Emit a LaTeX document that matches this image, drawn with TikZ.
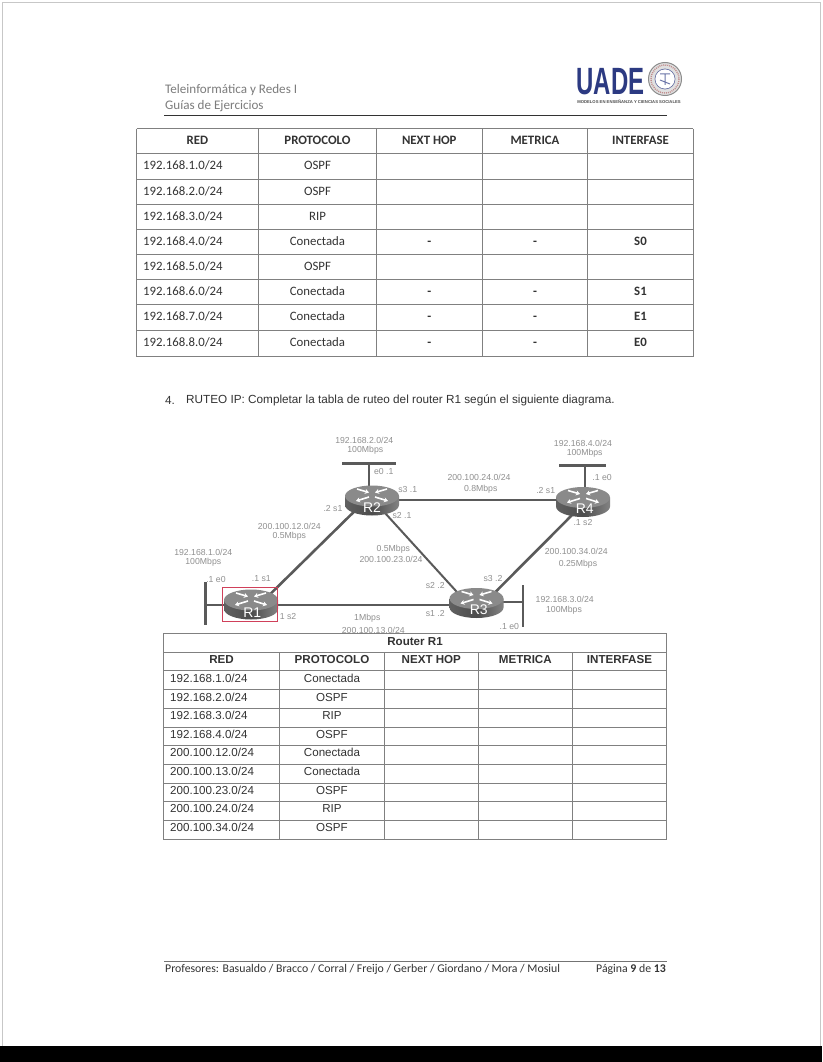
\documentclass[tikz,border=0pt]{standalone}
\usepackage{fontspec}
\usepackage{graphicx}
\setmainfont{Carlito}
\newfontfamily\arialf{Liberation Sans}
\usetikzlibrary{arrows.meta}
\definecolor{inkc}{HTML}{333333}
\definecolor{hdrc}{HTML}{7C7C7C}
\definecolor{gridc}{HTML}{808080}
\definecolor{lblc}{HTML}{909090}
\definecolor{linkc}{HTML}{5A5A5A}
\definecolor{navyc}{HTML}{2C3A82}
\definecolor{framec}{HTML}{D0405A}
\pgfdeclarelayer{page}
\pgfdeclarelayer{links}
\pgfsetlayers{page,links,main}
\tikzset{
  x=1pt,y=-1pt,
  lbl/.style={font=\arialf\fontsize{8.7}{10}\selectfont,text=lblc,inner sep=0pt,anchor=center},
  cellA/.style={font=\fontsize{12.8}{14}\selectfont,text=inkc,inner sep=0pt,text height=.7em,text depth=.15em,yshift=-1pt},
  cellAb/.style={cellA,font=\bfseries\fontsize{12.8}{14}\selectfont},
  cellB/.style={font=\arialf\fontsize{11.6}{14}\selectfont,text=inkc,inner sep=0pt,text height=.72em,text depth=.15em,yshift=-1.5pt},
  cellBb/.style={cellB,font=\arialf\bfseries\fontsize{11.6}{14}\selectfont},
  gridl/.style={draw=gridc,line width=1pt},
  linkl/.style={draw=linkc,line width=2.6pt},
  thinl/.style={draw=linkc,line width=2pt},
  busl/.style={draw=linkc,line width=2.6pt},
  rname/.style={font=\arialf\fontsize{14}{15}\selectfont,text=white,inner sep=0pt},
  marrow/.style={draw=white,line width=1.6pt,-{Stealth[length=4pt,width=5pt]}},
  router/.style={minimum width=56pt,minimum height=32pt,inner sep=0pt,
    path picture={
      \shade[left color=black!62,right color=black!48,middle color=black!70]
        (-27pt,4pt) -- (-27pt,-5pt) arc[start angle=180,end angle=360,x radius=27pt,y radius=10.5pt]
        -- (27pt,4pt) -- cycle;
      \fill[black!46] (0pt,4pt) ellipse[x radius=27pt,y radius=10.5pt];
      \draw[marrow] (-15pt,11pt) -- (-3pt,7.5pt);
      \draw[marrow] (15pt,11pt) -- (3pt,7.5pt);
      \draw[marrow] (-3pt,3pt) -- (-16pt,-1pt);
      \draw[marrow] (3pt,3pt) -- (16pt,-1pt);
    }},
}
\newcommand{\lab}[4]{\node[lbl] (#1) at (#2,#3) {#4};}
\newcommand{\rowA}[7]{%
  \node[cellA,anchor=west] (a#1n) at (143,#2) {#3};
  \node[cellA] (a#1p) at (317.5,#2) {#4};
  \node[cellAb] (a#1h) at (429.3,#2) {#5};
  \node[cellAb] (a#1m) at (535,#2) {#6};
  \node[cellAb] (a#1i) at (640.5,#2) {#7};}
\newcommand{\rowB}[4]{%
  \node[cellB,anchor=west] (b#1n) at (170,#2) {#3};
  \node[cellB] (b#1p) at (332,#2) {#4};}
\begin{document}
\begin{tikzpicture}
\useasboundingbox (0,0) rectangle (822,1062);
\begin{pgfonlayer}{page}
  \fill[white] (0,0) rectangle (822,1062);
  \draw[black!22,line width=1pt] (2,1046) -- (2,3) -- (820,3) -- (820,1046);
  \fill[black] (0,1046) rectangle (822,1062);
\end{pgfonlayer}

% header
\node[anchor=west,inner sep=0pt,text=hdrc,font=\fontsize{13.1}{15}\selectfont] (h1) at (165,90) {Teleinformática y Redes I};
\node[anchor=west,inner sep=0pt,text=hdrc,font=\fontsize{13.1}{15}\selectfont] (h2) at (165,106.5) {Guías de Ejercicios};
\draw[draw=black!80,line width=1pt] (164,116) -- (667,116);
\node[anchor=west,inner sep=0pt,text=navyc] (logo) at (576.5,81.5) {\scalebox{.63}[1]{\arialf\bfseries\fontsize{38}{38}\selectfont UADE}};
\node[anchor=center,inner sep=0pt,text=black!70,font=\arialf\bfseries\fontsize{4.2}{4.4}\selectfont] (logosub) at (629,102) {MODELOS EN ENSEÑANZA Y CIENCIAS SOCIALES};
\filldraw[fill=black!12,draw=black!45,line width=1pt] (665,79) circle[radius=16.5];
\draw[draw=red!45!black!45,line width=1.4pt,dash pattern=on 1pt off 1pt] (665,79) circle[radius=14];
\draw[draw=navyc!70,line width=.8pt] (665,79) circle[radius=10];
\fill[white] (665,79) circle[radius=9.5];
\draw[navyc!70,line width=1pt] (660,74) -- (670,74) (665,74) -- (665,85) (660,80) -- (670,84);

% table 1
\foreach \yy in {129,153.7,179.3,204.3,229.3,254.3,279.3,304.7,330,356.7} {\draw[gridl] (136.5,\yy) -- (693.3,\yy);}
\foreach \xx in {136.5,258.3,376.7,482,587.7,693.3} {\draw[gridl] (\xx,129) -- (\xx,356.7);}
\node[cellAb] (a0n) at (197.5,141) {RED};
\node[cellAb] (a0p) at (317.5,141) {PROTOCOLO};
\node[cellAb] (a0h) at (429.3,141) {NEXT HOP};
\node[cellAb] (a0m) at (535,141) {METRICA};
\node[cellAb] (a0i) at (640.5,141) {INTERFASE};
\rowA{1}{166}{192.168.1.0/24}{OSPF}{}{}{}
\rowA{2}{191.5}{192.168.2.0/24}{OSPF}{}{}{}
\rowA{3}{216.5}{192.168.3.0/24}{RIP}{}{}{}
\rowA{4}{241.5}{192.168.4.0/24}{Conectada}{-}{-}{S0}
\rowA{5}{266.5}{192.168.5.0/24}{OSPF}{}{}{}
\rowA{6}{291.7}{192.168.6.0/24}{Conectada}{-}{-}{S1}
\rowA{7}{316.7}{192.168.7.0/24}{Conectada}{-}{-}{E1}
\rowA{8}{342.5}{192.168.8.0/24}{Conectada}{-}{-}{E0}

% statement
\node[anchor=west,inner sep=0pt,text=inkc,font=\arialf\fontsize{11.75}{14}\selectfont] (num) at (165,400.5) {4.};
\node[anchor=west,inner sep=0pt,text=inkc,font=\arialf\fontsize{11.75}{14}\selectfont] (stmt) at (186,400.5) {RUTEO IP: Completar la tabla de ruteo del router R1 según el siguiente diagrama.};

% routers
\node[router] (R1) at (251,604) {};
\node[router] (R2) at (372,500) {};
\node[router] (R3) at (476.5,602.5) {};
\node[router] (R4) at (583,501.5) {};
\node[rname] (R1t) at (252.3,612.3) {R1};
\node[rname] (R2t) at (372,507.3) {R2};
\node[rname] (R3t) at (478.7,609.3) {R3};
\node[rname] (R4t) at (584.7,509) {R4};
\draw[draw=framec,line width=1pt] (222.3,587) rectangle (277.7,621.7);

% buses
\coordinate (b1a) at (205.7,582); \coordinate (b1b) at (205.7,625); \coordinate (b1s) at (205.7,605);
\coordinate (b2a) at (342,463.3); \coordinate (b2b) at (396,463.3); \coordinate (b2s) at (369,463.3);
\coordinate (b3a) at (523,585); \coordinate (b3b) at (523,627); \coordinate (b3s) at (523,602);
\coordinate (b4a) at (559,465.7); \coordinate (b4b) at (606,465.7); \coordinate (b4s) at (584.7,465.7);
\begin{pgfonlayer}{links}
  \draw[busl] (b1a) -- (b1b);
  \draw[busl] (b2a) -- (b2b);
  \draw[busl] (b3a) -- (b3b);
  \draw[busl] (b4a) -- (b4b);
  \draw[thinl] (b1s) -- (b1s -| R1);
  \draw[thinl] (b2s) -- (b2s |- R2);
  \draw[thinl] (b3s) -- (b3s -| R3);
  \draw[thinl] (b4s) -- (b4s |- R4);
  \draw[linkl] ([yshift=-9pt]R1.center) -- ([yshift=6pt]R2.center);
  \draw[linkl] ([yshift=-1pt]R1.center) -- ([yshift=-2.5pt]R3.center);
  \draw[linkl] (R2.center) -- ([yshift=1.5pt]R4.center);
  \draw[thinl] ([yshift=1.3pt]R2.center) -- ([yshift=-11pt]R3.center);
  \draw[linkl] ([yshift=-8.5pt]R3.center) -- ([yshift=-2.5pt]R4.center);
\end{pgfonlayer}

% labels
\lab{l01}{364.3}{440}{192.168.2.0/24}
\lab{l02}{365.3}{450.7}{100Mbps}
\lab{l03}{383.7}{472}{e0 .1}
\lab{l04}{333}{508}{.2 s1}
\lab{l05}{407.7}{489}{s3 .1}
\lab{l06}{402}{515.7}{s2 .1}
\lab{l07}{289.3}{526.3}{200.100.12.0/24}
\lab{l08}{289.3}{536.7}{0.5Mbps}
\lab{l09}{203.3}{552.7}{192.168.1.0/24}
\lab{l10}{203.3}{562.7}{100Mbps}
\lab{l11}{216}{579.3}{.1 e0}
\lab{l12}{261.3}{578.7}{.1 s1}
\lab{l13}{288}{616}{1 s2}
\lab{l14}{367.3}{618.7}{1Mbps}
\lab{l15}{373.3}{630.7}{200.100.13.0/24}
\lab{l16}{393.3}{549.3}{0.5Mbps}
\lab{l17}{391}{559.3}{200.100.23.0/24}
\lab{l18}{583}{443.7}{192.168.4.0/24}
\lab{l19}{584.7}{453.7}{100Mbps}
\lab{l20}{479}{477}{200.100.24.0/24}
\lab{l21}{480.7}{489}{0.8Mbps}
\lab{l22}{545.7}{490.7}{.2 s1}
\lab{l23}{602}{477.3}{.1 e0}
\lab{l24}{583}{522}{.1 s2}
\lab{l25}{576.3}{551.7}{200.100.34.0/24}
\lab{l26}{578}{564.3}{0.25Mbps}
\lab{l27}{493}{578.7}{s3 .2}
\lab{l28}{435.3}{585.3}{s2 .2}
\lab{l29}{435.3}{613.7}{s1 .2}
\lab{l30}{564.7}{599.3}{192.168.3.0/24}
\lab{l31}{564}{610}{100Mbps}
\lab{l32}{509.3}{626.7}{.1 e0}

% table 2
\fill[white] (163.3,633.3) rectangle (666.7,839.7);
\foreach \yy in {633.3,652.3,670.3,689.3,708.3,727,745.3,764.3,783,801.7,820.3,839.7} {\draw[gridl] (163.3,\yy) -- (666.7,\yy);}
\draw[gridl] (163.3,633.3) -- (163.3,839.7);
\draw[gridl] (666.7,633.3) -- (666.7,839.7);
\foreach \xx in {279.7,384.3,478.3,572.3} {\draw[gridl] (\xx,652.3) -- (\xx,839.7);}
\node[cellBb] (btitle) at (415,641) {Router R1};
\node[cellBb] (b0n) at (221.5,659.5) {RED};
\node[cellBb] (b0p) at (332,659.5) {PROTOCOLO};
\node[cellBb] (b0h) at (431.3,659.5) {NEXT HOP};
\node[cellBb] (b0m) at (525.3,659.5) {METRICA};
\node[cellBb] (b0i) at (619.5,659.5) {INTERFASE};
\rowB{1}{678}{192.168.1.0/24}{Conectada}
\rowB{2}{697}{192.168.2.0/24}{OSPF}
\rowB{3}{715.5}{192.168.3.0/24}{RIP}
\rowB{4}{734}{192.168.4.0/24}{OSPF}
\rowB{5}{752.5}{200.100.12.0/24}{Conectada}
\rowB{6}{771.5}{200.100.13.0/24}{Conectada}
\rowB{7}{790}{200.100.23.0/24}{OSPF}
\rowB{8}{808.5}{200.100.24.0/24}{RIP}
\rowB{9}{827.5}{200.100.34.0/24}{OSPF}

% footer
\draw[draw=black!55,line width=1pt] (164,961) -- (667,961);
\node[anchor=west,inner sep=0pt,text=inkc,font=\fontsize{11.8}{14}\selectfont] (f1) at (165,969) {Profesores: Basualdo / Bracco / Corral / Freijo / Gerber / Giordano / Mora / Mosiul};
\node[anchor=east,inner sep=0pt,text=inkc,font=\fontsize{11.8}{14}\selectfont] (f2) at (666,969) {Página \textbf{9} de \textbf{13}};
\end{tikzpicture}
\end{document}
